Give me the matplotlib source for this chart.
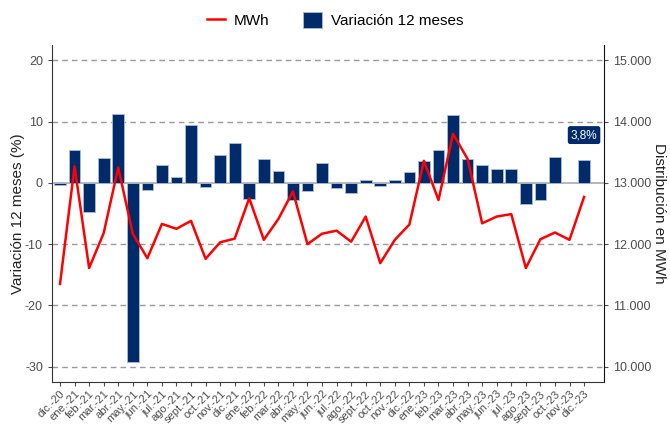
import matplotlib
matplotlib.use("Agg")
import matplotlib.pyplot as plt
from matplotlib.lines import Line2D
from matplotlib.ticker import FuncFormatter

plt.rcParams['font.family'] = ['Liberation Sans', 'DejaVu Sans']
plt.rcParams['axes.unicode_minus'] = False

months = ['dic.-20', 'ene.-21', 'feb.-21', 'mar.-21', 'abr.-21', 'may.-21', 'jun.-21',
          'jul.-21', 'ago.-21', 'sept.-21', 'oct.-21', 'nov.-21', 'dic.-21',
          'ene.-22', 'feb.-22', 'mar.-22', 'abr.-22', 'may.-22', 'jun.-22',
          'jul.-22', 'ago.-22', 'sept.-22', 'oct.-22', 'nov.-22', 'dic.-22',
          'ene.-23', 'feb.-23', 'mar.-23', 'abr.-23', 'may.-23', 'jun.-23',
          'jul.-23', 'ago.-23', 'sept.-23', 'oct.-23', 'nov.-23', 'dic.-23']

variacion = [-0.3, 5.4, -4.7, 4.1, 11.2, -29.2, -1.1, 2.9, 1.0, 9.5, -0.6, 4.6, 6.5,
             -2.6, 3.9, 1.9, -2.8, -1.4, 3.3, -0.8, -1.6, 0.5, -0.5, 0.4, 1.8,
             3.5, 5.4, 11.1, 3.9, 2.9, 2.3, 2.2, -3.4, -2.8, 4.2, 0.0, 3.8]

mwh = [11350, 13270, 11610, 12180, 13250, 12170, 11770, 12330, 12250, 12380, 11760,
       12030, 12090, 12750, 12070, 12410, 12860, 12000, 12170, 12220, 12040, 12450,
       11690, 12070, 12320, 13360, 12720, 13800, 13390, 12340, 12450, 12490, 11610,
       12080, 12190, 12070, 12770]

navy = '#002b6b'
grey = '#4d4d4d'
x = list(range(len(months)))

fig = plt.figure(figsize=(6.7, 4.24), dpi=100)
ax = fig.add_axes([52/670, 1 - 382/424, (604-52)/670, (382-45)/424])
ax2 = ax.twinx()

# right axis is tied to the left one: MWh = 13000 + 100 * %
ax.set_ylim(-32.5, 22.5)
ax2.set_ylim(13000 - 3250, 13000 + 2250)
ax.set_xlim(-0.55, 37.37)

for yv in [-30, -20, -10, 10, 20]:
    ax.axhline(yv, color='#999999', lw=1, ls=(0, (4, 3)), zorder=0)
ax.axhline(0, color='#aaaaaa', lw=1.2, zorder=1)

bars = ax.bar(x, variacion, width=0.8, color=navy, edgecolor='#b0bcd6', lw=0.6, zorder=2)
ax.set_zorder(ax2.get_zorder() + 1)
ax.patch.set_visible(False)

# MWh line drawn on the left axes (converted) so it sits on top of the bars
ax.plot(x, [(v - 13000) / 100 for v in mwh], color='#ff0000', lw=1.8, zorder=3)

ax.annotate('3,8%', (x[-1], variacion[-1] + 4.0), ha='center', va='center', color='white',
            fontsize=8.5, zorder=5,
            bbox=dict(boxstyle='round,pad=0.25,rounding_size=0.2', fc=navy, ec='none'))

ax.set_yticks([-30, -20, -10, 0, 10, 20])
ax2.set_yticks([10000, 11000, 12000, 13000, 14000, 15000])
ax2.yaxis.set_major_formatter(FuncFormatter(lambda v, p: f'{int(v):,}'.replace(',', '.')))
ax.set_xticks(x)
ax.set_xticklabels(months, rotation=45, ha='right', rotation_mode='anchor')

for a in (ax, ax2):
    a.spines['top'].set_visible(False)
    a.tick_params(colors=grey, labelsize=9, length=3)
ax.tick_params(axis='x', labelsize=8, pad=2)
ax.spines['right'].set_visible(False)
ax.spines['left'].set_color('#333333')
ax.spines['bottom'].set_color('#333333')
ax2.spines['left'].set_visible(False)
ax2.spines['bottom'].set_visible(False)
ax2.spines['right'].set_color('#111111')

ax.set_ylabel('Variación 12 meses (%)', fontsize=11, color='#222222', va='center')
ax.yaxis.set_label_coords(-(52 - 18) / 552, 0.5)
ax2.set_ylabel('Distribución en MWh', fontsize=11, color='#222222', rotation=270,
               va='center')
ax2.yaxis.set_label_coords(1 + (659 - 604) / 552, 0.5)

handles = [Line2D([0], [0], color='#ff0000', lw=1.8),
           plt.Rectangle((0, 0), 1, 1, fc=navy, ec='#b0bcd6', lw=0.6)]
fig.legend(handles=handles, labels=['MWh', 'Variación 12 meses'], loc='center',
           bbox_to_anchor=(335/670, 1 - 20/424), ncol=2, frameon=False, fontsize=11,
           handlelength=1.2, handleheight=1.2, columnspacing=2.2, handletextpad=0.6)

fig.savefig('out.png', dpi=100)
